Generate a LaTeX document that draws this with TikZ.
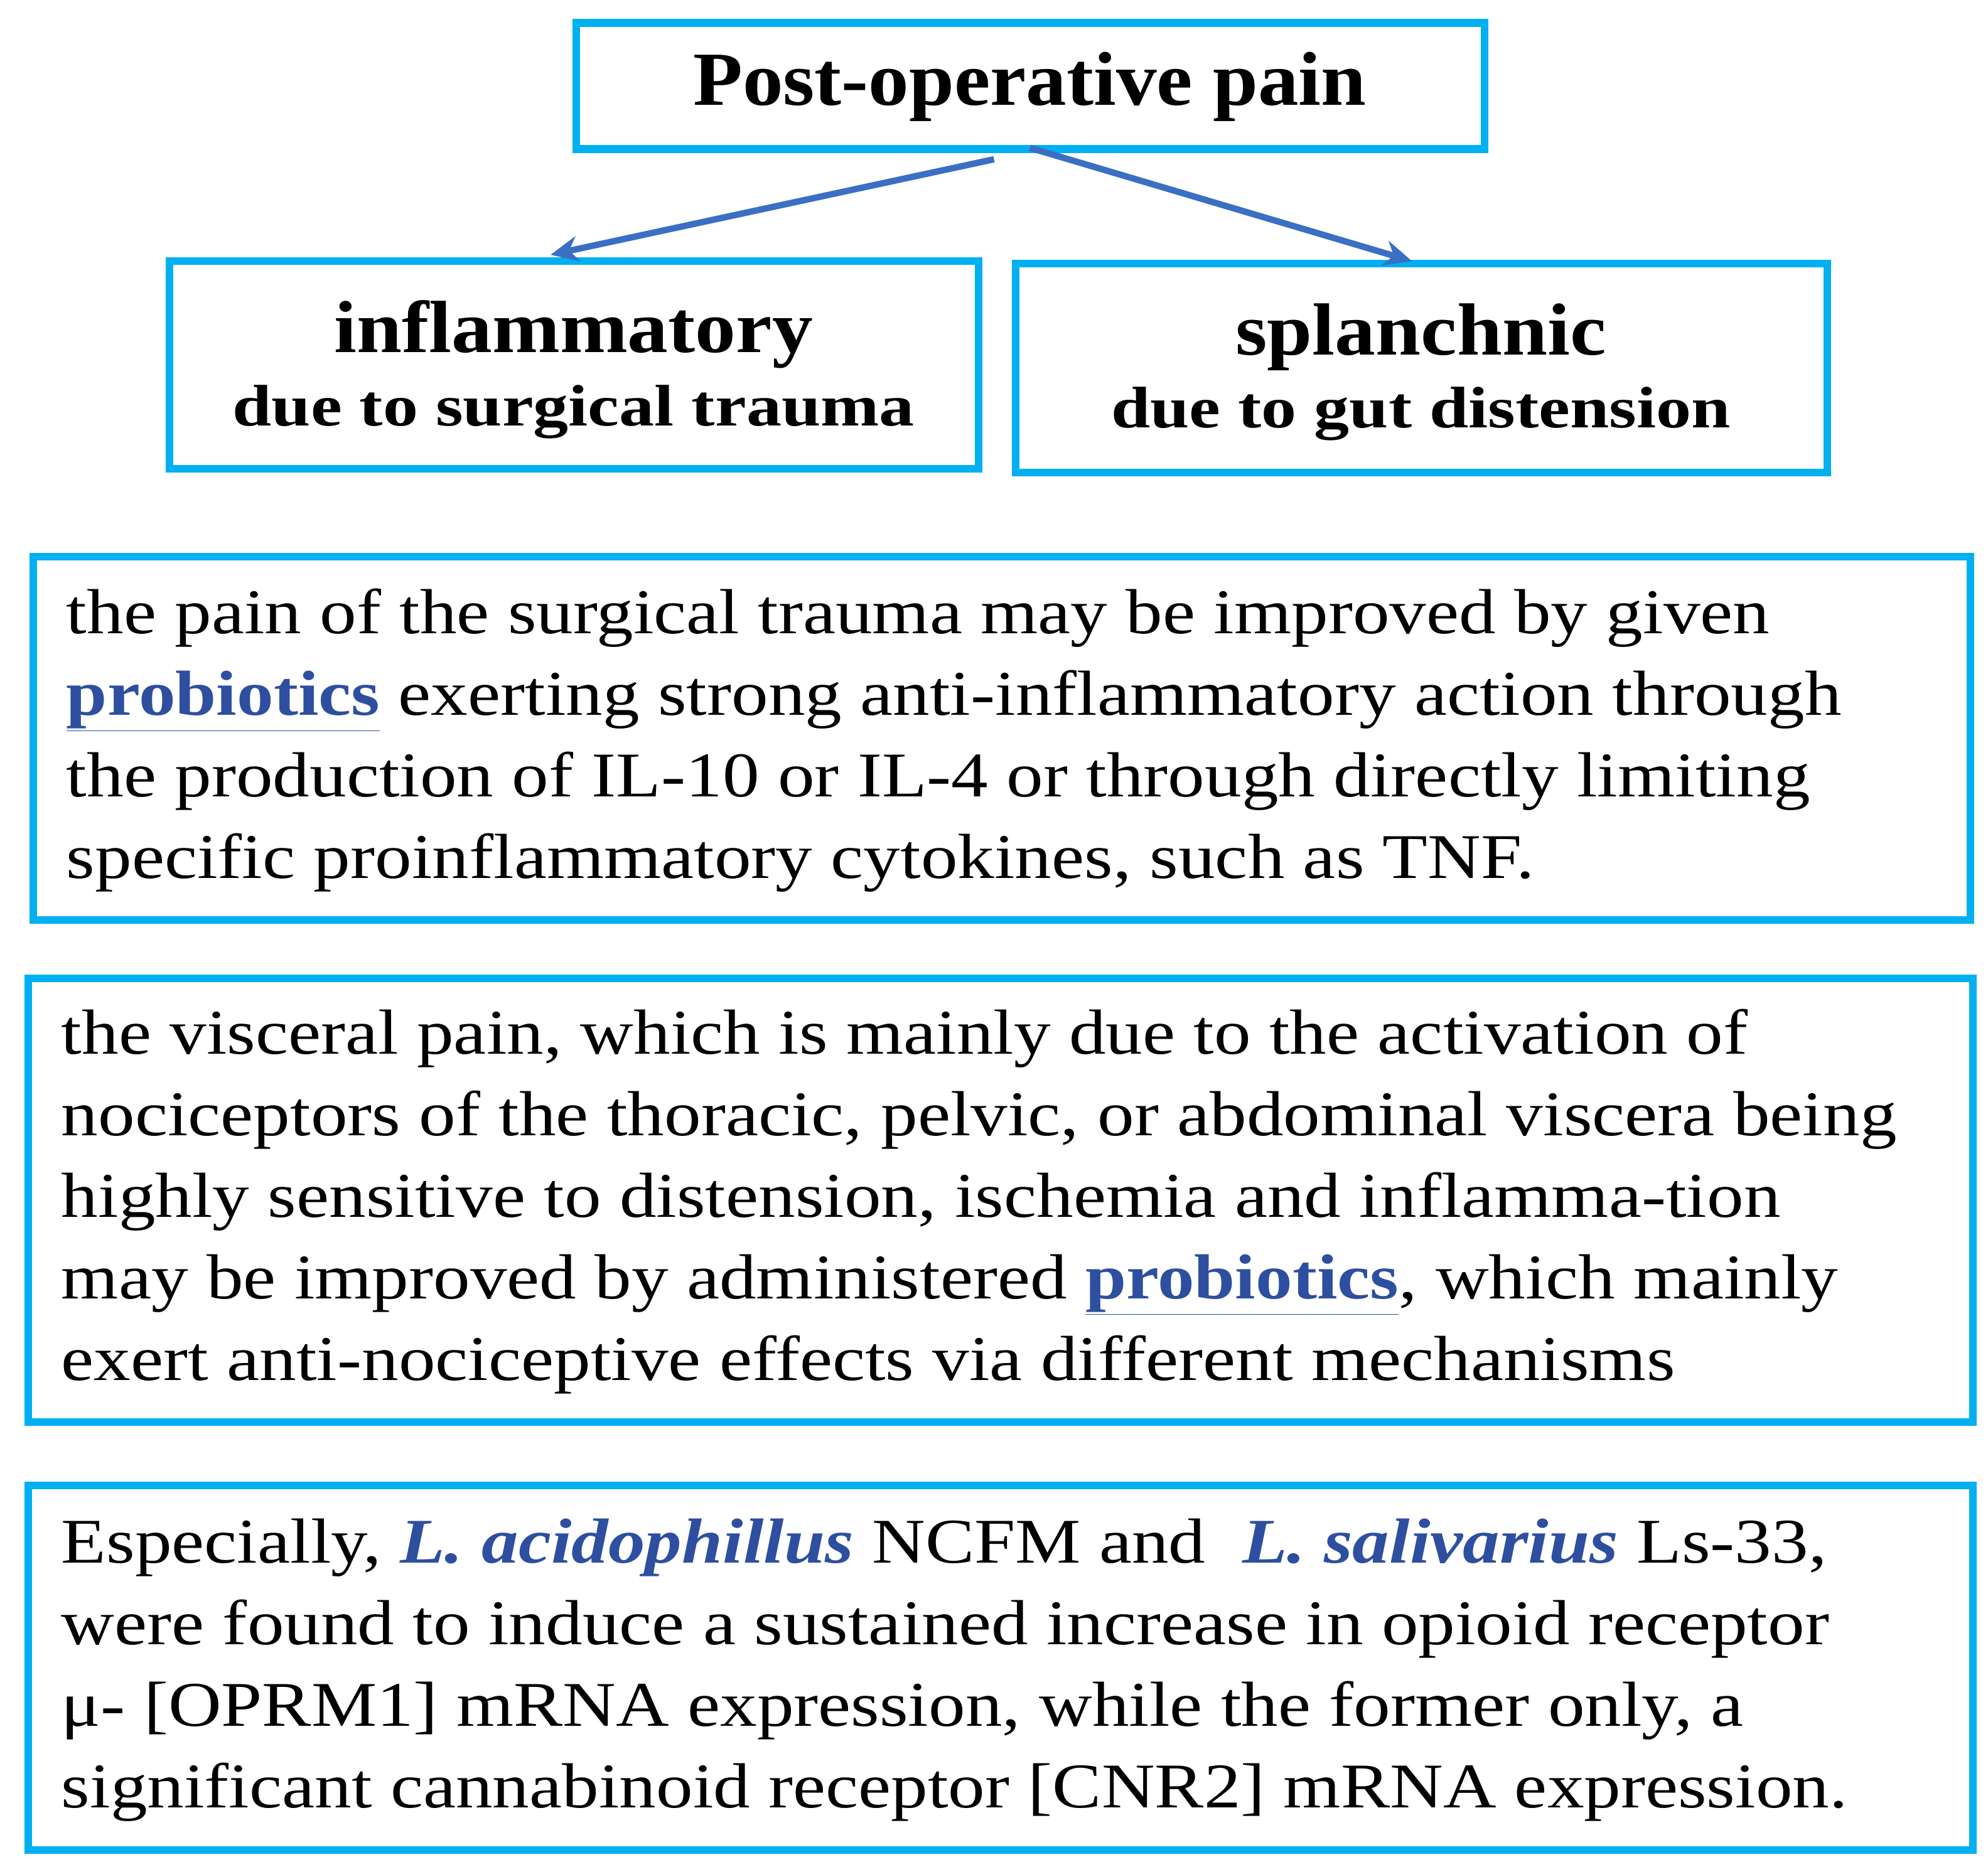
\documentclass[tikz,border=0pt]{standalone}
\usepackage{fontspec}
\setmainfont{Liberation Serif}
\usetikzlibrary{arrows.meta}
\definecolor{boxc}{HTML}{00B0F0}
\definecolor{arrc}{HTML}{3A6FC4}
\definecolor{linkc}{HTML}{2E4FA0}
\newcommand{\strch}[1]{\addfontfeature{FakeStretch=#1}}
\tikzset{
  frame/.style={draw=boxc,line width=6pt},
  arr/.style={draw=arrc,line width=5pt,-{Stealth[length=22pt,width=20pt]}},
  body/.style={anchor=north west,inner sep=0pt,align=left,font=\fontsize{50}{64}\selectfont\strch{1.155}},
}
\newcommand{\probio}{\textcolor{linkc}{\textbf{\underline{probiotics}}}}
\begin{document}
\begin{tikzpicture}[x=1pt,y=-1pt]
\useasboundingbox (0,0) rectangle (1560,1465);
\draw[frame] (452,18) rectangle (1165,117);
\node[font=\fontsize{60}{60}\selectfont\bfseries\strch{1.06}] (top) at (808,68) {Post-operative pain};
\draw[frame] (133,205) rectangle (768,368);
\node[align=center,font=\bfseries] (inf) at (450,290) {{\fontsize{58}{64}\selectfont\strch{1.1}inflammatory}\\[12pt]{\fontsize{46}{60}\selectfont\strch{1.2}due to surgical trauma}};
\draw[frame] (797,207) rectangle (1434,371);
\node[align=center,font=\bfseries] (spl) at (1115,292) {{\fontsize{58}{64}\selectfont\strch{1.1}splanchnic}\\[12pt]{\fontsize{46}{60}\selectfont\strch{1.2}due to gut distension}};
\coordinate (a1) at (780,125); \coordinate (a2) at (432,200);
\coordinate (b1) at (808,116); \coordinate (b2) at (1108,205);
\draw[arr] (a1) -- (a2);
\draw[arr] (b1) -- (b2);
\draw[frame] (26,437) rectangle (1546,722);
\node[body] (t1) at (52,462) {the pain of the surgical trauma may be improved by given\\
\probio{} exerting strong anti-inflammatory action through\\
the production of IL-10 or IL-4 or through directly limiting\\
specific proinflammatory cytokines, such as TNF.};
\draw[frame] (22,768) rectangle (1548,1116);
\node[body] (t2) at (48,792) {the visceral pain, which is mainly due to the activation of\\
nociceptors of the thoracic, pelvic, or abdominal viscera being\\
highly sensitive to distension, ischemia and inflamma-tion\\
may be improved by administered \probio, which mainly\\
exert anti-nociceptive effects via different mechanisms};
\draw[frame] (22,1166) rectangle (1548,1452);
\node[body] (t3) at (48,1192) {Especially, \textcolor{linkc}{\textbf{\textit{L. acidophillus}}} NCFM and \ \textcolor{linkc}{\textbf{\textit{L. salivarius}}} Ls-33,\\
were found to induce a sustained increase in opioid receptor\\
μ- [OPRM1] mRNA expression, while the former only, a\\
significant cannabinoid receptor [CNR2] mRNA expression.};
\end{tikzpicture}
\end{document}
